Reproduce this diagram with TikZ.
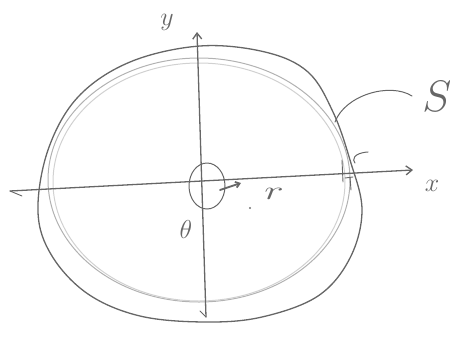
\documentclass[tikz,border=0pt]{standalone}
\usetikzlibrary{arrows.meta}
\begin{document}
\begin{tikzpicture}[x=1pt,y=-1pt,
  pencil/.style={draw=black!60,line width=1.3pt,line cap=round,line join=round},
  faint/.style={draw=black!30,line width=1pt,line cap=round},
  barb/.style={-{Straight Barb[length=6pt,width=9pt]}},
  lbl/.style={text=black!60,inner sep=0pt,font=\huge,scale=1.25}]
\useasboundingbox (0,0) rectangle (450,338);
% outer hand-drawn circle
\draw[pencil] plot[smooth cycle,tension=0.6] coordinates{
  (200,46) (265,52) (308,72) (333,112) (350,160) (362,210) (350,258)
  (318,296) (262,317) (205,322) (140,316) (88,294) (52,256) (38,212)
  (48,150) (78,97) (130,62)};
% inner faint circles
\draw[faint] (199,180) ellipse[x radius=151,y radius=122];
\draw[faint,draw=black!18] (199,182) ellipse[x radius=146,y radius=119];
% axes
\coordinate (xl) at (10,191);
\coordinate (xr) at (413,170);
\coordinate (yb) at (206,317);
\coordinate (yt) at (197,32);
\draw[pencil,barb] (xl) -- (xr);
\draw[pencil,line width=0.9pt] (xl) -- (22,196);
\draw[pencil,barb] (yb) -- (yt);
\draw[pencil,line width=0.9pt] (yb) -- (200,311);
% small circle at origin
\coordinate (o) at (207,186);
\draw[pencil,line width=1pt] (o) ellipse[x radius=18,y radius=23];
% radius arrow
\coordinate (ra) at (220,190);
\coordinate (rb) at (241,183);
\draw[pencil,line width=1.8pt,-{Straight Barb[length=4pt,width=6pt]}] (ra) -- (rb);
\fill[black!55] (250,208) circle[radius=1.2pt];
% tick marks at x-axis crossing
\draw[pencil,line width=0.9pt] (342,160) -- (343,182);
\draw[pencil,line width=0.9pt] (345,178) -- (353,177) (350,177) -- (351,190);
\draw[pencil,line width=1pt] (355,163) .. controls (352,160) and (353,153) .. (368,152);
% leader
\coordinate (la) at (335,122);
\coordinate (lb) at (412,96);
\draw[pencil,line width=1pt] (la) .. controls (345,95) and (390,82) .. (lb);
% labels
\node[lbl] (ylab) at (167,22) {$y$};
\node[lbl] (xlab) at (432,186) {$x$};
\node[lbl,xscale=1.6] (rlab) at (274,194) {$r$};
\node[lbl] (tlab) at (186,229) {$\theta$};
\node[lbl,scale=1.7] (slab) at (437,96) {$S$};
\end{tikzpicture}
\end{document}
